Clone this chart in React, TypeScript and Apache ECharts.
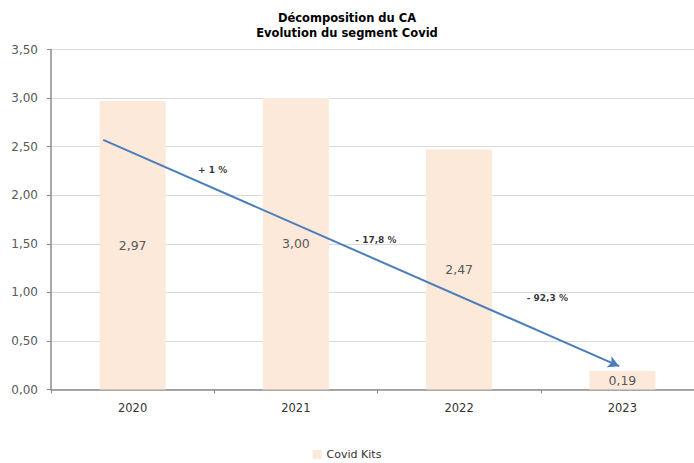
import React, { useEffect, useRef } from "react";
import * as echarts from "echarts";

const categories = ["2020", "2021", "2022", "2023"];
const covidKits = [2.97, 3.0, 2.47, 0.19];
const changeLabels = ["+ 1 %", "- 17,8 %", "- 92,3 %"];
const changePositions: [number, number][] = [
  [0.49, 2.26],
  [1.49, 1.54],
  [2.54, 0.94],
];
const trendStart: [number, number] = [-0.18, 2.57];
const trendEnd: [number, number] = [2.98, 0.24];
const yTicks = { min: 0, max: 3.5, interval: 0.5 };

const FONT = "'DejaVu Sans', Verdana, sans-serif";
const fmt = (v: number) => v.toFixed(2).replace(".", ",");

export default function App() {
  const ref = useRef<HTMLDivElement>(null);
  useEffect(() => {
    if (!ref.current) return;
    const chart = echarts.init(ref.current, null, { renderer: "svg" });
    chart.setOption({
      animation: false,
      backgroundColor: "#ffffff",
      title: {
        text: "Décomposition du CA\nEvolution du segment Covid",
        left: "center",
        top: 5,
        textStyle: {
          fontFamily: FONT,
          fontSize: 11.5,
          fontWeight: "bold",
          color: "#000000",
          lineHeight: 15,
        },
      },
      legend: {
        bottom: -2,
        left: "center",
        icon: "rect",
        itemWidth: 9,
        itemHeight: 9,
        itemGap: 4,
        data: ["Covid Kits"],
        textStyle: { fontFamily: FONT, fontSize: 11, color: "#333333" },
      },
      grid: { left: 51, top: 49.5, width: 653, height: 340, outerBoundsMode: "none", containLabel: false },
      xAxis: [
        {
          type: "category",
          data: categories,
          axisLine: { lineStyle: { color: "#8c8c8c", width: 1.5 } },
          axisTick: { show: true, alignWithLabel: false, lineStyle: { color: "#8c8c8c" }, length: 4 },
          axisLabel: { fontFamily: FONT, fontSize: 11.5, color: "#333333", margin: 12 },
        },
        { type: "value", min: -0.5, max: 3.5, show: false },
      ],
      yAxis: {
        type: "value",
        min: yTicks.min,
        max: yTicks.max,
        interval: yTicks.interval,
        axisLine: { show: true, onZero: false, lineStyle: { color: "#8c8c8c", width: 1.5 } },
        axisTick: { show: true, length: 4, lineStyle: { color: "#8c8c8c" } },
        axisLabel: {
          fontFamily: FONT,
          fontSize: 12,
          color: "#595959",
          margin: 13,
          formatter: (v: number) => fmt(v),
        },
        splitLine: { lineStyle: { color: "#d9d9d9", width: 1 } },
      },
      series: [
        {
          name: "Covid Kits",
          type: "bar",
          data: covidKits,
          barWidth: 66,
          itemStyle: { color: "#FDE9D9" },
          label: {
            show: true,
            position: "inside",
            fontFamily: FONT,
            fontSize: 12.5,
            color: "#595959",
            formatter: (p: any) => fmt(p.value),
          },
        },
        {
          name: "changes",
          type: "scatter",
          xAxisIndex: 1,
          symbolSize: 0,
          data: changePositions.map((p, i) => ({ value: p, name: changeLabels[i] })),
          label: {
            show: true,
            position: "inside",
            fontFamily: FONT,
            fontSize: 9,
            fontWeight: "bold",
            color: "#000000",
            formatter: (p: any) => p.name,
          },
          markLine: {
            silent: true,
            symbol: ["none", "arrow"],
            symbolSize: [9, 11],
            label: { show: false },
            lineStyle: { color: "#4A7EBB", width: 2, type: "solid" },
            data: [[{ coord: trendStart }, { coord: trendEnd }]],
          },
        },
      ],
    });
    return () => chart.dispose();
  }, []);
  return (
    <div
      ref={ref}
      style={{ position: "fixed", left: 0, top: 0, width: 694, height: 463 }}
    />
  );
}
